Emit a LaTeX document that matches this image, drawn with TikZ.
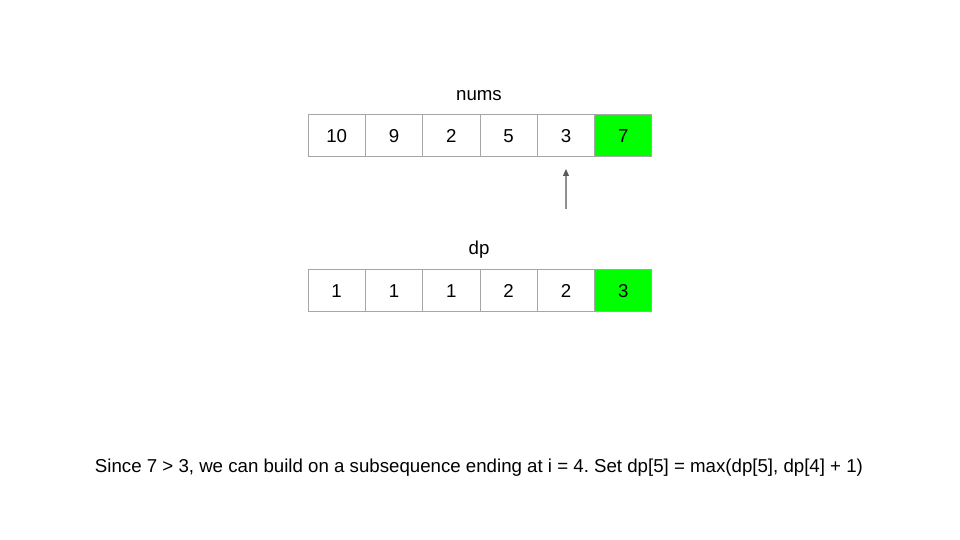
\documentclass[tikz,border=0pt]{standalone}
\usepackage{fontspec}
\setmainfont{Liberation Sans}
\usepackage{xcolor}
\usetikzlibrary{arrows.meta,positioning}
\definecolor{cellline}{HTML}{A6A6A6}
\definecolor{hit}{HTML}{00FF00}
\definecolor{ptrgray}{HTML}{595959}
\frenchspacing

\begin{document}
\begin{tikzpicture}[
  x=1pt,y=1pt,
  font=\fontsize{18.67}{22}\selectfont,
  cell/.style={draw=cellline,line width=1pt,minimum width=57.33pt,minimum height=42pt,inner sep=0pt,outer sep=0pt,align=center},
  hitcell/.style={cell,fill=hit},
  title/.style={anchor=base,inner sep=0pt},
  arr/.style={-{Triangle[length=7pt,width=6pt]},draw=ptrgray,fill=ptrgray,line width=1.2pt}
]
\useasboundingbox (0,0) rectangle (960,540);
% nums row
\node[title] (numslabel) at (479,439) {nums};
\node[cell] (n1) at (336.67,404) {10};
\node[cell,right=0pt of n1] (n2) {9};
\node[cell,right=0pt of n2] (n3) {2};
\node[cell,right=0pt of n3] (n4) {5};
\node[cell,right=0pt of n4] (n5) {3};
\node[hitcell,right=0pt of n5] (n6) {7};
% dp row
\node[title] (dplabel) at (479,285) {dp};
\node[cell] (d1) at (336.67,249.25) {1};
\node[cell,right=0pt of d1] (d2) {1};
\node[cell,right=0pt of d2] (d3) {1};
\node[cell,right=0pt of d3] (d4) {2};
\node[cell,right=0pt of d4] (d5) {2};
\node[hitcell,right=0pt of d5] (d6) {3};
% pointer to j
\coordinate (ptr) at (566,331);
\draw[arr,shorten >=12pt] (ptr) -- (n5.south);
% caption
\node[title] (caption) at (479,67) {Since 7 > 3, we can build on a subsequence ending at i = 4. Set dp[5] = max(dp[5], dp[4] + 1)};
\end{tikzpicture}
\end{document}
